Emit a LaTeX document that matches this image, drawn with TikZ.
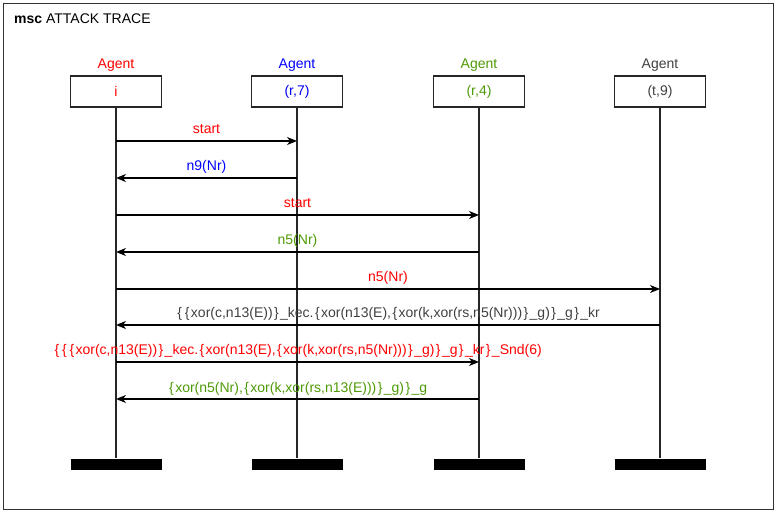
\documentclass[tikz,border=0pt]{standalone}
\usepackage{fontspec}
\setmainfont{Liberation Sans}
\usetikzlibrary{arrows.meta}
\definecolor{agred}{RGB}{255,0,0}
\definecolor{agblue}{RGB}{0,0,255}
\definecolor{aggreen}{RGB}{78,154,6}
\definecolor{aggray}{RGB}{64,64,64}
\newcommand\LB{\kern1.4pt\{\kern1.4pt}
\newcommand\RB{\kern1.4pt\}\kern1.4pt}
\newcommand\US{\_}
\begin{document}
\begin{tikzpicture}[x=1pt,y=-1pt,font=\fontsize{14}{16}\selectfont,
  head/.style={draw=black!85,line width=1.4pt,minimum width=91pt,minimum height=31pt,inner sep=0pt},
  bar/.style={fill=black,minimum width=91pt,minimum height=11pt,inner sep=0pt},
  life/.style={line width=1.5pt,draw=black!85},
  msg/.style={line width=1.4pt,-{Stealth[length=10pt,width=8pt,inset=3pt]}},
  lbl/.style={anchor=base,inner sep=0pt},
  mlbl/.style={midway,anchor=base,inner sep=0pt,yshift=7pt}]
\useasboundingbox (0,0) rectangle (777,513);
\draw[line width=1.6pt,draw=black!80] (3.5,3.5) rectangle (773.5,509.5);
\node[anchor=base west,inner sep=0pt] (title) at (14,24) {\textbf{msc} ATTACK TRACE};
% heads
\node[head,text=agred] (i) at (116,91.5) {i};
\node[head,text=agblue] (r7) at (297,91.5) {(r,7)};
\node[head,text=aggreen] (r4) at (479,91.5) {(r,4)};
\node[head,text=aggray] (t9) at (660,91.5) {(t,9)};
\node[lbl,text=agred] (ai) at (116,69) {Agent};
\node[lbl,text=agblue] (ar7) at (297,69) {Agent};
\node[lbl,text=aggreen] (ar4) at (479,69) {Agent};
\node[lbl,text=aggray] (at9) at (660,69) {Agent};
% bars
\node[bar] (bi) at (116,464) {};
\node[bar] (br7) at (297,464) {};
\node[bar] (br4) at (479,464) {};
\node[bar] (bt9) at (660,464) {};
\draw[life] (i.south) -- (bi.north);
\draw[life] (r7.south) -- (br7.north);
\draw[life] (r4.south) -- (br4.north);
\draw[life] (t9.south) -- (bt9.north);
% message end points
\path (i |- 0,141) coordinate (m1a) (r7 |- 0,141) coordinate (m1b);
\path (r7 |- 0,178) coordinate (m2a) (i |- 0,178) coordinate (m2b);
\path (i |- 0,215) coordinate (m3a) (r4 |- 0,215) coordinate (m3b);
\path (r4 |- 0,252) coordinate (m4a) (i |- 0,252) coordinate (m4b);
\path (i |- 0,289) coordinate (m5a) (t9 |- 0,289) coordinate (m5b);
\path (t9 |- 0,325) coordinate (m6a) (i |- 0,325) coordinate (m6b);
\path (i |- 0,362) coordinate (m7a) (r4 |- 0,362) coordinate (m7b);
\path (r4 |- 0,399) coordinate (m8a) (i |- 0,399) coordinate (m8b);
% messages
\draw[msg] (m1a) -- node[mlbl,text=agred] {start} (m1b);
\draw[msg] (m2a) -- node[mlbl,text=agblue] {n9(Nr)} (m2b);
\draw[msg] (m3a) -- node[mlbl,text=agred] {start} (m3b);
\draw[msg] (m4a) -- node[mlbl,text=aggreen] {n5(Nr)} (m4b);
\draw[msg] (m5a) -- node[mlbl,text=agred] {n5(Nr)} (m5b);
\draw[msg] (m6a) -- node[mlbl,text=aggray] {\LB\LB xor(c,n13(E))\RB\US kec.\LB xor(n13(E),\LB xor(k,xor(rs,n5(Nr)))\RB\US g)\RB\US g\RB\US kr} (m6b);
\draw[msg] (m7a) -- node[mlbl,text=agred] {\LB\LB\LB xor(c,n13(E))\RB\US kec.\LB xor(n13(E),\LB xor(k,xor(rs,n5(Nr)))\RB\US g)\RB\US g\RB\US kr\RB\US Snd(6)} (m7b);
\draw[msg] (m8a) -- node[mlbl,text=aggreen] {\LB xor(n5(Nr),\LB xor(k,xor(rs,n13(E)))\RB\US g)\RB\US g} (m8b);
\end{tikzpicture}
\end{document}
